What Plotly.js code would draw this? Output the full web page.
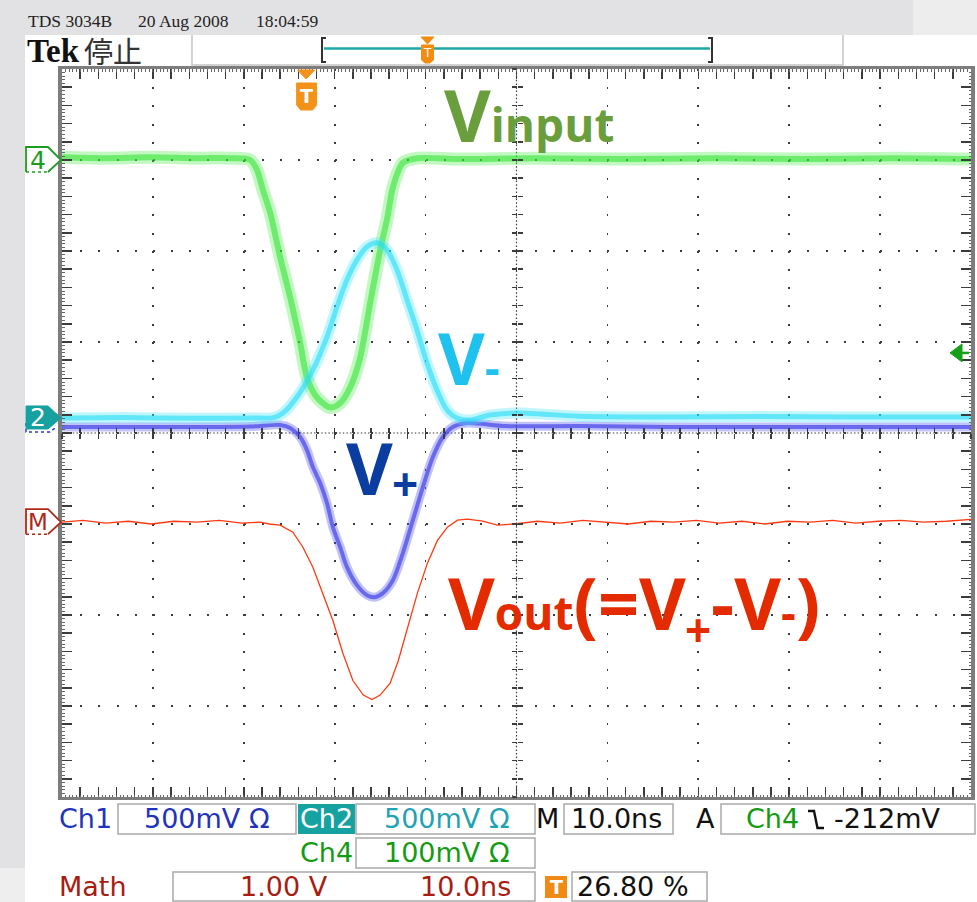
<!DOCTYPE html>
<html><head><meta charset="utf-8">
<script src="https://cdn.plot.ly/plotly-3.0.1.min.js"></script>
<style>
html,body{margin:0;padding:0;background:#e2e2e4;}
#wrap{position:relative;width:977px;height:902px;overflow:hidden;background:#e2e2e4;}
.bg{position:absolute;}
#chart{position:absolute;left:0;top:0;width:977px;height:902px;}
</style></head><body>
<div id="wrap">
 <div class="bg" style="left:913px;top:0;width:64px;height:35px;background:#ededee"></div>
 <div class="bg" style="left:0;top:868px;width:25px;height:34px;background:#eeeeef"></div>
 <div class="bg" style="left:25px;top:35px;width:952px;height:867px;background:#fff"></div>
 <div id="chart"></div>
</div>
<script>
// ---- data (time in ns relative to trigger) ----
const ch4_t  = [-26.8,-22,-17,-12,-8.3,-6.1,-5.35,-4.7,-3.9,-2.8,-1.7,-0.6,0.15,1.25,2.7,3.8,4.9,6.0,7.1,8.2,9.0,9.6,10.7,12.3,17,25,35,45,55,65,73.2];
const ch4_mV = [3,2,3,2,2,0,-11,-33,-58,-107,-151,-201,-239,-261,-272,-267,-250,-217,-157,-99,-63,-30,-3,2,1,2,1,2,1,2,1];

const ch2_t  = [-26.8,-20,-12,-6,-3.5,-2.5,-0.95,0.8,2.35,3.45,4.55,5.65,6.75,7.85,8.95,10.05,11.15,12.25,13.35,14.45,15.55,16.65,18.1,20.3,23.3,30,40,50,60,73.2];
const ch2_mV = [0,3,-2,0,2,27,115,264,446,611,759,869,941,963,924,814,649,484,303,154,44,0,-11,16,27,10,5,8,5,5];

const ch1_t  = [-26.8,-20,-12,-6,-2.8,-1.7,-0.6,0.15,0.8,1.6,2.35,3.0,3.8,4.55,5.65,6.75,7.6,8.5,9.6,10.7,11.8,12.9,14.0,15.1,16.2,17.8,22,30,40,50,60,73.2];
const ch1_mV = [0,0,0,3,11,-5,-55,-127,-220,-308,-418,-550,-660,-770,-869,-924,-935,-913,-842,-693,-512,-330,-165,-55,0,22,5,5,0,0,0,0];

const math_t = [-26.8,-24.5,-22,-19.5,-17,-14.5,-12,-9.5,-7,-5,-4,
  -2.8,-1.4,-0.3,0.8,1.9,3.0,4.1,5.2,6.35,7.3,
  8.2,9.3,10.2,11.2,12.3,13.4,14.5,15.6,16.7,17.8,
  19.5,21.1,23,25.5,28,30.5,33,35.5,38,40.5,
  43,45.5,48,50.5,53,55.5,58,60.5,63,65.5,
  68,70.5,73.2];
const math_V = [0,0.02,-0.01,0.01,-0.02,0.01,0,0.02,-0.01,0,-0.02,
  -0.033,-0.11,-0.275,-0.495,-0.78,-1.08,-1.44,-1.74,-1.90,-1.95,
  -1.90,-1.77,-1.52,-1.155,-0.78,-0.45,-0.2,-0.055,0.022,0.033,
  0.011,-0.033,-0.02,0.01,-0.01,0.02,0,-0.02,0.01,0,
  0.02,-0.01,0.01,-0.02,0.01,0,0.02,-0.01,0.01,0.02,
  0,0.01,0.03];

// channel settings (scale per division, ground position in divisions)
const ch4_scale = 100, ch4_pos = 3.0;
const ch2_scale = 500, ch2_pos = 0.165;
const ch1_scale = 500, ch1_pos = 0.066;
const math_scale = 1.0, math_pos = -0.98;
const trig_mV = -212;
const xRange = [-26.8, 73.2];

// readout texts
const headerTexts = ['TDS 3034B', '20 Aug 2008', '18:04:59'];

// ---- geometry helpers (page pixels -> paper) ----
const L=62, R=971, T=69, B=797;
const PX = x => (x-L)/(R-L);
const PY = y => (B-y)/(B-T);
const path = (pts, close) => 'M' + pts.map(p => PX(p[0]).toFixed(5)+','+PY(p[1]).toFixed(5)).join('L') + (close?'Z':'');
const tToPx = t => L + (t - xRange[0])/(xRange[1]-xRange[0])*(R-L);
const divToPx = d => (T+B)/2 - d*(B-T)/8;

function band(t, v, scale, pos, glow, wGlow, core, wCore) {
  const y = v.map(val => pos + val/scale);
  return [
    {type:'scatter', mode:'lines', x:t, y:y, line:{color:glow, width:wGlow, shape:'spline', smoothing:0.8}, hoverinfo:'skip'},
    {type:'scatter', mode:'lines', x:t, y:y, line:{color:core, width:wCore, shape:'spline', smoothing:0.8}, hoverinfo:'skip'}
  ];
}

const traces = [].concat(
  band(ch1_t, ch1_mV, ch1_scale, ch1_pos, 'rgba(80,80,240,0.35)', 9, 'rgba(45,45,230,0.60)', 4),
  band(ch4_t, ch4_mV, ch4_scale, ch4_pos, 'rgba(80,235,80,0.34)', 13, 'rgba(40,225,40,0.55)', 6),
  band(ch2_t, ch2_mV, ch2_scale, ch2_pos, 'rgba(70,230,250,0.34)', 11, 'rgba(30,220,248,0.58)', 5),
  [{type:'scatter', mode:'lines', x:math_t, y:math_V.map(v => math_pos + v/math_scale), line:{color:'#ff3a12', width:1.3}, hoverinfo:'skip'},
   {type:'scatter', mode:'lines', x:[], y:[], xaxis:'x2', yaxis:'y'},
   {type:'scatter', mode:'lines', x:[], y:[], xaxis:'x3', yaxis:'y'},
   {type:'scatter', mode:'lines', x:[], y:[], xaxis:'x4', yaxis:'y'},
   {type:'scatter', mode:'lines', x:[], y:[], xaxis:'x', yaxis:'y2'},
   {type:'scatter', mode:'lines', x:[], y:[], xaxis:'x', yaxis:'y3'},
   {type:'scatter', mode:'lines', x:[], y:[], xaxis:'x', yaxis:'y4'}]
);

// ---- shapes ----
const shapes = [];
function rect(x0,y0,x1,y1,fill,line,lw,extra){
  shapes.push(Object.assign({type:'rect', xref:'paper', yref:'paper', x0:PX(x0), x1:PX(x1), y0:PY(y0), y1:PY(y1), fillcolor:fill, line:{color:line||'rgba(0,0,0,0)', width:lw||0}}, extra||{}));
}
function pth(pts, close, fill, color, w, dash){
  shapes.push({type:'path', xref:'paper', yref:'paper', path:path(pts, close), fillcolor:fill||'rgba(0,0,0,0)', line:{color:color||'rgba(0,0,0,0)', width:w||0, dash:dash||'solid'}});
}
// center cross lines
shapes.push({type:'line', xref:'x', yref:'y', x0:23.2, x1:23.2, y0:4, y1:-4, layer:'between', line:{color:'#3c3c3c', width:1.2, dash:'1.5px,2.1px'}});
shapes.push({type:'line', xref:'x', yref:'y', x0:xRange[0], x1:xRange[1], y0:0, y1:0, layer:'between', line:{color:'#3c3c3c', width:1.2, dash:'1.5px,2.1px'}});

// top status area
pth([[192,35],[192,65],[843,65],[843,35]], false, null, '#c4c4c4', 1.5);
pth([[326,38],[322,38],[322,62],[326,62]], false, null, '#333', 2);
pth([[708,38],[712,38],[712,62],[708,62]], false, null, '#333', 2);
pth([[324,48.5],[710,48.5]], false, null, '#1fa7a7', 2.5);
pth([[421,37],[434,37],[427.5,44]], true, '#f28c12', '#f28c12', 1);
pth([[421.5,45],[433.5,45],[433.5,60],[430,63],[425,63],[421.5,60]], true, '#f28c12', '#f28c12', 1);

// trigger position marker (t = 0)
const tx = tToPx(0);
pth([[tx-8,70],[tx+9,70],[tx+0.5,79]], true, '#f39218', '#f39218', 1);
pth([[tx-9,83],[tx+11,83],[tx+11,105],[tx+7,110],[tx-5,110],[tx-9,105]], true, '#f39218', '#f39218', 1);

// trigger level arrow (right edge)
const ty = divToPx(ch4_pos + trig_mV/ch4_scale);
pth([[950,ty],[962,ty-9],[962,ty+9]], true, '#17a017', '#17a017', 1);
pth([[961,ty],[969,ty]], false, null, '#17a017', 2.5);

// channel markers
const y4 = divToPx(ch4_pos), y2 = divToPx(ch2_pos), y1 = divToPx(ch1_pos), yM = divToPx(math_pos);
pth([[26,y1-4],[26,y1+5],[50,y1+5],[55,y1+1]], false, null, '#2a3ad0', 1.5, 'dot');
pth([[26,y2-12],[48,y2-12],[61,y2],[48,y2+11],[26,y2+11]], true, '#17a0a0', '#17a0a0', 1);
pth([[26,y4+12],[26,y4-13],[48,y4-13],[61,y4],[48,y4+12]], false, '#ffffff', '#1d9d1d', 1.8);
pth([[26,y4+12],[48,y4+12]], false, null, '#1d9d1d', 1.5, 'dot');
pth([[26,yM+12],[26,yM-13],[48,yM-13],[61,yM],[48,yM+12]], false, '#ffffff', '#b02818', 1.8);
pth([[26,yM+12],[48,yM+12]], false, null, '#b02818', 1.5, 'dot');

// readout boxes
const bc = '#a9a9a9';
rect(118,804,296,834,'#fff',bc,1.5);
rect(298,804,355,834,'#17a2a2');
rect(356,804,535,834,'#fff',bc,1.5);
rect(564,804,673,834,'#fff',bc,1.5);
rect(721,804,975,834,'#fff',bc,1.5);
rect(356,838,535,868,'#fff',bc,1.5);
rect(173,872,535,901,'#fff',bc,1.5);
rect(545,876,567,898,'#f08a14');
rect(572,872,707,901,'#fff',bc,1.5);
// falling-slope symbol
pth([[808,811],[814,811],[817.5,828],[824,828]], false, null, '#111', 2.4);

// ---- annotations ----
const annotations = [];
const K = {os:0.388, dv:0.346, sf:0.338, cjk:0.38};
function A(text, x, base, size, color, family, k, extra){
  annotations.push(Object.assign({xref:'paper', yref:'paper', x:PX(x), y:PY(base - k*size), xanchor:'left', yanchor:'middle',
    text:text, showarrow:false, borderpad:0, borderwidth:0, font:{family:family, size:size, color:color}}, extra||{}));
}
function C(text, x, yc, size, color, family, weight){
  annotations.push({xref:'paper', yref:'paper', x:PX(x), y:PY(yc), xanchor:'center', yanchor:'middle',
    text:text, showarrow:false, borderpad:0, borderwidth:0, font:{family:family, size:size, color:color, weight:weight||400}});
}
const SER = 'Liberation Serif, serif', DV = 'DejaVu Sans, sans-serif', OS = 'Open Sans, sans-serif';

A(headerTexts[0], 28, 27, 17.5, '#222', SER, K.sf);
A(headerTexts[1], 138, 27, 17.5, '#222', SER, K.sf);
A(headerTexts[2], 256, 27, 17.5, '#222', SER, K.sf);
A('<b>Tek</b>', 27, 62, 33, '#111', SER, K.sf);
A('停止', 84, 61, 29, '#333', 'Noto Sans CJK JP, sans-serif', K.cjk);
C('<b>T</b>', tx+1, 96, 19, '#fff', DV);
C('T', 427.5, 53, 12, '#fff', DV);

// channel marker labels
C('4', 38, y4, 25, '#1d9d1d', DV);
C('2', 38, y2, 25, '#ffffff', DV);
C('M', 38, yM, 23, '#b02818', DV);

// trace labels
const big = 72, sm = 46;
function LB(text, x, base, size, color){
  A(text, x, base, size, color, OS, K.os);
  annotations[annotations.length-1].font.weight = 700;
}
LB('V<span style="font-size:46px">input</span>', 444, 142, big, '#6a9e3c');
LB('V<span style="font-size:46px">-</span>', 438, 385, big, '#1fc2ef');
LB('V', 346, 495, big, '#0b3c9f');
LB('+', 392, 501, sm, '#0b3c9f');
LB('V<span style="font-size:46px">out</span>(=V', 448, 630, big, '#e42b00');
LB('+', 685, 647, sm, '#e42b00');
LB('-V<span style="font-size:46px">-</span>)', 711, 630, big, '#e42b00');

// readout texts
const rs = 27;
A('Ch1', 59, 828, rs, '#2233bb', DV, K.dv);
A('500mV Ω', 144, 828, rs, '#2233bb', DV, K.dv);
A('Ch2', 300, 828, rs, '#ffffff', DV, K.dv);
A('500mV Ω', 384, 828, rs, '#1fa3b3', DV, K.dv);
A('M', 536, 828, rs, '#111', DV, K.dv);
A('10.0ns', 571, 828, rs, '#111', DV, K.dv);
A('A', 696, 828, rs, '#111', DV, K.dv);
A('Ch4', 746, 828, rs, '#139b13', DV, K.dv);
A('-212mV', 834, 828, rs, '#111', DV, K.dv);
A('Ch4', 300, 862, rs, '#139b13', DV, K.dv);
A('100mV Ω', 384, 862, rs, '#139b13', DV, K.dv);
A('Math', 59, 896, rs, '#a81c12', DV, K.dv);
A('1.00 V', 240, 896, rs, '#a81c12', DV, K.dv);
A('10.0ns', 420, 896, rs, '#a81c12', DV, K.dv);
C('<b>T</b>', 556, 887, 19, '#fff', DV);
A('26.80 %', 577, 896, rs, '#111', DV, K.dv);

// ---- axes ----
const tc = '#3c3c3c';
const hidden = {showgrid:false, zeroline:false, showline:false, showticklabels:false, fixedrange:true, tickcolor:tc, tickwidth:1.5, ticklen:5};
const layout = {
  width:977, height:902,
  margin:{l:62, r:6, t:69, b:105, pad:0},
  paper_bgcolor:'rgba(0,0,0,0)', plot_bgcolor:'#ffffff',
  showlegend:false,
  xaxis:{range:xRange, tick0:xRange[0], dtick:10, showgrid:true, gridcolor:tc, gridwidth:1.6, griddash:'2px,16.18px',
    zeroline:false, showline:true, linecolor:'#7d7d7d', linewidth:3, mirror:'allticks', ticks:'inside', ticklen:10,
    tickwidth:1.5, tickcolor:tc, showticklabels:false, fixedrange:true,
    minor:{tick0:xRange[0], dtick:2, ticks:'inside', ticklen:5, tickwidth:1.5, tickcolor:tc, showgrid:false}},
  yaxis:{range:[-4,4], tick0:-4, dtick:1, showgrid:true, gridcolor:tc, gridwidth:1.6, griddash:'2px,16.18px',
    zeroline:false, showline:true, linecolor:'#7d7d7d', linewidth:4, mirror:'allticks', ticks:'inside', ticklen:10,
    tickwidth:1.5, tickcolor:tc, showticklabels:false, fixedrange:true,
    minor:{tick0:-4, dtick:0.2, ticks:'inside', ticklen:5, tickwidth:1.5, tickcolor:tc, showgrid:false}},
  xaxis2:Object.assign({overlaying:'x', anchor:'free', position:0.5, range:xRange, tick0:xRange[0], dtick:2, ticks:'inside'}, hidden),
  xaxis3:Object.assign({overlaying:'x', anchor:'free', position:0.5, range:xRange, tick0:xRange[0], dtick:2, ticks:'outside'}, hidden),
  xaxis4:Object.assign({overlaying:'x', anchor:'y', range:xRange, tick0:xRange[0], dtick:0.4, ticks:'inside', mirror:'allticks'}, hidden, {ticklen:2.5, tickwidth:1, tickcolor:'#666'}),
  yaxis2:Object.assign({overlaying:'y', anchor:'free', position:0.5, range:[-4,4], tick0:-4, dtick:0.2, ticks:'inside'}, hidden),
  yaxis3:Object.assign({overlaying:'y', anchor:'free', position:0.5, range:[-4,4], tick0:-4, dtick:0.2, ticks:'outside'}, hidden),
  yaxis4:Object.assign({overlaying:'y', anchor:'x', range:[-4,4], tick0:-4, dtick:0.04, ticks:'inside', mirror:'allticks'}, hidden, {ticklen:2.5, tickwidth:1, tickcolor:'#666'}),
  shapes:shapes,
  annotations:annotations
};
Plotly.newPlot('chart', traces, layout, {displayModeBar:false, staticPlot:true});
</script>
</body></html>
